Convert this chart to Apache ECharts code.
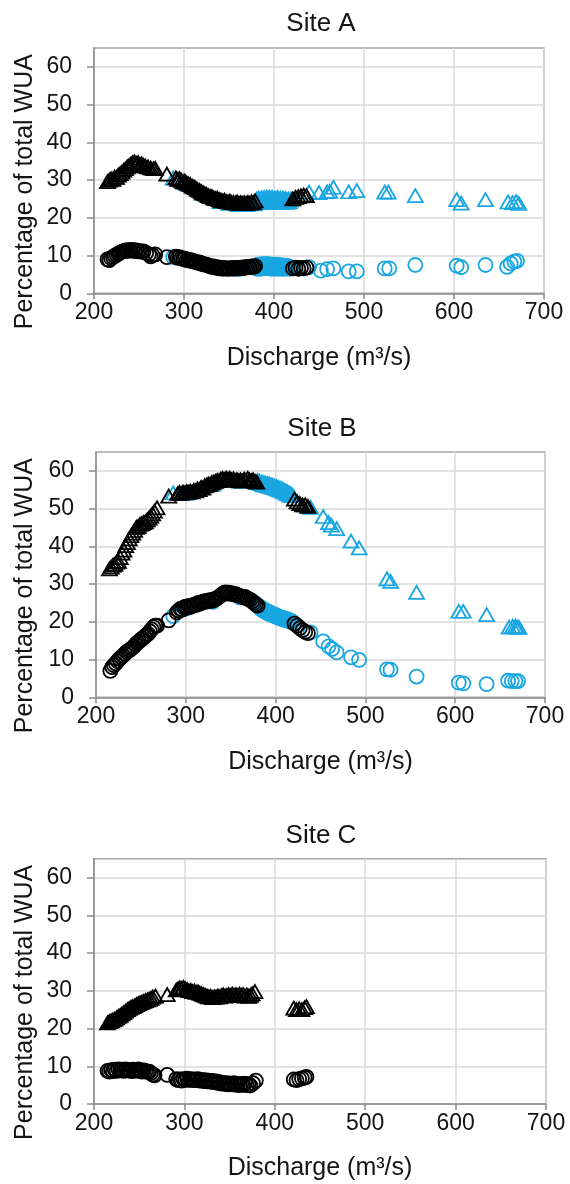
<!DOCTYPE html>
<html>
<head>
<meta charset="utf-8">
<script src="https://cdn.jsdelivr.net/npm/echarts@6/dist/echarts.min.js"></script>
<style>
html,body{margin:0;padding:0;background:#fff;}
#chart{width:570px;height:1184px;}
</style>
</head>
<body>
<div id="chart"></div>
<script>
// ---------- DATA ----------
const panelTitles = ['Site A', 'Site B', 'Site C'];
const xTicks = [200, 300, 400, 500, 600, 700];
const yTicks = [0, 10, 20, 30, 40, 50, 60];
const xAxisTitle = 'Discharge (m\u00b3/s)';
const yAxisTitle = 'Percentage of total WUA';

// Site A
const siteA_triBlack = [[215,29.6],[217,30.0],[219,30.3],[221,30.2],[223,30.8],[225,30.7],[227,31.3],[229,31.7],[231,32.1],[233,32.6],[235,33.0],[237,33.5],[239,33.8],[241,34.2],[243,34.6],[245,34.8],[247,34.4],[249,34.6],[251,34.1],[253,34.3],[255,33.9],[257,33.7],[260,33.5],[263,33.2],[266,33.0],[268,33.1],
  [281,31.6],
  [291,30.6],[293,30.2],[295,30.4],[297,29.9],[299,29.6],[301,29.7],[303,29.2],[305,29.0],[307,28.8],[309,28.4],[311,28.2],[313,27.9],[315,27.5],[317,27.3],[319,27.0],[321,26.7],[323,26.4],[325,26.2],[327,25.9],[329,25.7],[331,25.6],[333,25.3],[335,25.1],[337,25.2],[339,24.8],[341,24.7],[343,24.5],[345,24.7],[347,24.3],[349,24.2],[351,24.4],[353,24.0],[355,24.1],[357,23.9],[359,24.2],[361,23.8],[363,24.0],[365,23.8],[367,24.0],[369,23.8],[371,24.1],[373,23.9],[375,24.2],[377,24.0],[379,24.5],
  [421,25.0],[424,25.4],[427,25.6],[430,25.8],[433,26.0],[436,25.9]];
const siteA_triBlue = [[288,30.5],[300,29.3],[320,26.5],[340,24.3],[350,23.8],[360,23.5],[370,23.5],[378,23.7],
  [380,24.0],[381,25.0],[382,24.3],[383,25.2],[384,24.0],[385,24.6],[386,25.3],[387,24.1],[388,24.7],[389,25.4],[390,24.0],[391,24.8],[392,25.5],[393,24.2],[394,24.9],[395,25.5],[396,24.1],[397,24.8],[398,25.4],[399,24.0],[400,24.7],[401,25.3],[402,24.2],[403,24.9],[404,25.4],[405,24.1],[406,24.7],[407,25.2],[408,24.0],[409,24.6],[410,25.3],[411,24.2],[412,24.8],[413,25.1],[414,24.1],[415,24.6],[416,25.0],[417,24.2],[418,24.7],[419,25.0],
  [439,26.8],[450,26.7],[459,26.9],[462,27.0],[466,28.1],[483,26.9],[492,27.2],[523,26.8],[527,26.8],[557,25.9],[603,24.8],[608,23.9],[635,24.8],[660,24.2],[665,24.0],[669,24.3],[672,23.8]];
const siteA_cirBlack = [[215,9.0],[217,8.8],[219,9.3],[221,9.6],[223,9.9],[225,10.2],[227,10.5],[229,10.8],[231,11.0],[233,11.2],[235,11.4],[237,11.2],[239,11.5],[241,11.3],[243,11.5],[245,11.2],[247,11.4],[249,11.1],[251,11.2],[253,11.0],[255,11.1],[258,10.7],[261,10.3],[263,9.8],[265,10.1],[268,10.3],
  [281,9.6],
  [291,9.7],[293,9.4],[295,9.6],[297,9.3],[299,9.1],[301,9.2],[303,8.8],[305,8.9],[307,8.6],[309,8.7],[311,8.4],[313,8.3],[315,8.1],[317,8.2],[319,7.9],[321,7.8],[323,7.6],[325,7.6],[327,7.3],[329,7.2],[331,7.0],[333,7.1],[335,6.8],[337,6.9],[339,6.6],[341,6.7],[343,6.5],[345,6.7],[347,6.5],[349,6.6],[351,6.5],[353,6.7],[355,6.5],[357,6.7],[359,6.6],[361,6.7],[363,6.8],[365,6.6],[367,6.9],[369,6.8],[371,7.0],[373,6.9],[375,7.1],[377,7.0],[379,7.2],
  [421,6.6],[424,6.8],[427,6.5],[430,6.7],[433,6.6],[436,6.8]];
const siteA_cirBlue = [[288,9.6],[300,9.0],[320,7.7],[340,6.6],[360,6.4],[378,6.8],
  [380,7.2],[381,6.5],[382,7.6],[383,6.8],[384,7.3],[385,6.5],[386,7.7],[387,6.9],[388,7.4],[389,6.6],[390,7.8],[391,7.0],[392,7.4],[393,6.6],[394,7.7],[395,6.9],[396,7.3],[397,6.5],[398,7.6],[399,6.8],[400,7.4],[401,6.5],[402,7.6],[403,6.9],[404,7.3],[405,6.5],[406,7.5],[407,6.8],[408,7.2],[409,6.5],[410,7.4],[411,6.7],[412,7.2],[413,6.5],[414,7.3],[415,6.7],[416,7.1],[417,6.5],[418,7.0],[419,6.6],
  [439,6.9],[452,6.0],[459,6.4],[466,6.6],[483,5.8],[492,5.8],[523,6.6],[528,6.6],[557,7.5],[603,7.3],[608,6.9],[635,7.5],[659,7.0],[663,7.9],[667,8.4],[670,8.6]];

// Site B
const siteB_triBlack = [[215,34.0],[217,34.5],[219,35.0],[221,35.2],[223,35.8],[225,36.0],[227,37.0],[229,38.2],[231,39.0],[233,40.2],[235,41.0],[237,42.0],[239,42.8],[241,43.5],[243,44.2],[245,45.0],[247,45.3],[249,45.8],[251,46.0],[253,46.3],[255,46.5],[257,47.0],[259,47.5],[261,48.0],[263,48.6],[265,49.3],[268,50.2],
  [281,53.3],
  [291,54.0],[293,54.3],[295,54.0],[297,54.4],[299,54.2],[301,54.5],[303,54.3],[305,54.6],[307,54.4],[309,54.8],[311,54.7],[313,55.2],[315,55.0],[317,55.6],[319,55.4],[321,56.0],[323,56.2],[325,56.5],[327,56.4],[329,56.9],[331,57.0],[333,57.2],[335,57.5],[337,57.4],[339,57.8],[341,58.0],[343,57.7],[345,58.1],[347,57.8],[349,58.0],[351,57.6],[353,57.9],[355,57.5],[357,57.7],[359,57.4],[361,57.6],[363,57.3],[365,57.8],[367,57.5],[369,58.0],[371,57.6],[373,57.4],[375,57.6],[377,57.2],[379,57.0],
  [421,52.5],[424,51.8],[427,51.3],[430,51.0],[433,51.0],[436,50.6]];
const siteB_triBlue = [[286,54.2],[300,54.0],[330,56.5],[360,57.2],[378,57.0],
  [380,57.4],[381,56.9],[382,57.2],[383,56.6],[384,57.0],[385,56.8],[386,56.3],[387,56.9],[388,56.4],[389,56.7],[390,56.1],[391,56.6],[392,56.0],[393,56.5],[394,55.9],[395,56.3],[396,55.7],[397,56.2],[398,55.6],[399,55.9],[400,55.4],[401,55.8],[402,55.2],[403,55.6],[404,55.0],[405,55.4],[406,54.9],[407,55.2],[408,54.6],[409,55.0],[410,54.4],[411,54.7],[412,54.1],[413,54.5],[414,53.9],[415,54.2],[416,53.6],[417,53.9],[418,53.4],[419,53.6],
  [439,50.3],[453,47.9],[459,46.3],[462,45.6],[468,44.7],[484,41.4],[493,39.6],[524,31.4],[528,30.7],[557,27.8],[604,22.8],[609,22.8],[635,21.9],[660,18.6],[664,18.8],[667,18.8],[669,18.6],[671,18.5]];
const siteB_cirBlack = [[216,7.0],[218,8.0],[220,8.5],[222,9.0],[224,9.6],[226,10.2],[228,10.6],[230,11.0],[232,11.5],[234,12.0],[236,12.3],[238,12.6],[240,13.0],[242,13.4],[244,14.0],[246,14.5],[248,14.8],[250,15.3],[252,15.6],[254,16.0],[256,16.5],[258,16.8],[260,17.5],[262,18.0],[264,18.6],[266,19.0],[268,19.0],
  [281,20.4],
  [290,22.5],[292,23.0],[294,23.4],[296,23.2],[298,23.8],[300,24.0],[302,23.8],[304,24.2],[306,24.0],[308,24.4],[310,24.6],[312,24.5],[314,25.0],[316,24.8],[318,25.2],[320,25.4],[322,25.3],[324,25.6],[326,25.5],[328,25.8],[330,25.6],[332,26.0],[334,26.1],[336,26.5],[338,26.8],[340,27.2],[342,27.6],[344,27.8],[346,27.5],[348,27.7],[350,27.4],[352,27.5],[354,27.2],[356,27.3],[358,27.0],[360,26.9],[362,26.7],[364,26.5],[366,26.6],[368,26.2],[370,26.0],[372,25.8],[374,25.4],[376,25.0],[378,24.6],[380,24.3],
  [421,19.5],[424,19.0],[427,18.3],[430,17.8],[433,17.3],[436,17.0]];
const siteB_cirBlue = [[286,21.5],[300,23.5],[330,25.3],[360,26.5],[378,24.8],
  [380,24.4],[381,23.9],[382,24.1],[383,23.5],[384,23.7],[385,23.1],[386,23.4],[387,22.8],[388,23.1],[389,22.6],[390,22.9],[391,22.3],[392,22.6],[393,22.1],[394,22.4],[395,21.9],[396,22.2],[397,21.7],[398,22.0],[399,21.5],[400,21.8],[401,21.3],[402,21.6],[403,21.1],[404,21.4],[405,20.9],[406,21.2],[407,20.8],[408,21.0],[409,20.6],[410,20.9],[411,20.5],[412,20.7],[413,20.3],[414,20.6],[415,20.2],[416,20.4],[417,20.0],[418,20.2],[419,19.9],
  [439,17.2],[453,14.8],[459,13.5],[463,12.8],[468,11.9],[484,10.6],[493,9.9],[524,7.4],[528,7.3],[557,5.5],[604,3.9],[609,3.7],[635,3.5],[659,4.4],[663,4.3],[667,4.3],[670,4.3]];

// Site C
const siteC_triBlack = [[215,21.5],[217,21.8],[219,22.0],[221,22.3],[223,22.5],[225,22.8],[227,23.2],[229,23.5],[231,23.9],[233,24.2],[235,24.6],[237,25.0],[239,25.3],[241,25.6],[243,25.8],[245,26.0],[247,26.3],[249,26.6],[251,26.8],[253,27.0],[255,27.2],[257,27.4],[259,27.6],[261,27.7],[263,28.0],[265,28.3],[268,28.6],
  [281,29.0],
  [291,30.2],[293,30.5],[295,30.8],[297,30.6],[299,30.9],[301,30.5],[303,30.3],[305,30.0],[307,30.1],[309,29.8],[311,29.9],[313,29.6],[315,29.7],[317,29.4],[319,29.2],[321,29.0],[323,28.8],[325,28.6],[327,28.4],[329,28.5],[331,28.2],[333,28.4],[335,28.3],[337,28.6],[339,28.4],[341,28.7],[343,28.9],[345,28.6],[347,28.8],[349,29.0],[351,28.7],[353,29.1],[355,28.8],[357,29.0],[359,28.7],[361,29.1],[363,28.8],[365,29.0],[367,28.6],[369,28.9],[371,28.5],[373,28.8],[375,29.2],[378,29.8],
  [421,25.4],[424,25.0],[427,25.2],[430,25.0],[433,25.5],[435,25.8]];
const siteC_cirBlack = [[215,8.8],[217,8.6],[219,9.0],[221,8.7],[223,9.1],[225,8.8],[227,9.2],[229,8.9],[231,9.1],[233,8.8],[235,9.2],[237,8.9],[239,9.0],[241,8.7],[243,9.1],[245,8.8],[247,8.9],[249,9.2],[251,8.8],[253,8.6],[255,8.9],[257,8.7],[259,8.5],[261,8.6],[263,8.2],[265,7.8],[267,7.6],
  [281,7.7],
  [291,6.6],[293,6.3],[295,6.5],[297,6.2],[299,6.6],[301,6.4],[303,6.7],[305,6.4],[307,6.6],[309,6.3],[311,6.5],[313,6.3],[315,6.6],[317,6.2],[319,6.4],[321,6.1],[323,6.3],[325,6.0],[327,6.2],[329,5.9],[331,6.1],[333,5.8],[335,6.0],[337,5.6],[339,5.8],[341,5.4],[343,5.6],[345,5.3],[347,5.5],[349,5.2],[351,5.4],[353,5.2],[355,5.5],[357,5.1],[359,5.3],[361,5.0],[363,5.3],[365,5.1],[367,5.4],[369,5.0],[371,5.2],[373,4.9],[376,5.5],[379,6.2],
  [421,6.5],[424,6.3],[427,6.6],[430,6.8],[433,7.0],[435,7.2]];

// ---------- CHART ----------
const FONT = '"Liberation Sans", Arial, Helvetica, sans-serif';
const TEXT = '#141414';
const BLUE = '#1aa7e1';
const BLACK = '#000000';

const grids = [
  {left: 94, top: 48, width: 450, height: 245.3},
  {left: 96, top: 452, width: 449, height: 245.3},
  {left: 94, top: 858.7, width: 452, height: 245.3}
];
const titleCenters = [[321, 23.5], [322, 429], [321, 836]];

function xAxisFor(i) {
  return {
    type: 'value', gridIndex: i, min: 200, max: 700, interval: 100,
    name: xAxisTitle, nameLocation: 'middle', nameGap: 52,
    nameTextStyle: {fontSize: 25, color: TEXT, fontFamily: FONT},
    axisLine: {show: true, lineStyle: {color: '#8a8a8a', width: 1.5}},
    axisTick: {show: true, length: 6, lineStyle: {color: '#8a8a8a', width: 1.5}},
    axisLabel: {fontSize: 23, color: TEXT, fontFamily: FONT, margin: 8, customValues: xTicks},
    splitLine: {show: true, lineStyle: {color: '#d9d9d9', width: 1.5}}
  };
}
function yAxisFor(i) {
  return {
    type: 'value', gridIndex: i, min: 0, max: 65, interval: 10,
    axisLine: {show: true, lineStyle: {color: '#8a8a8a', width: 1.5}},
    axisTick: {show: true, length: 7, lineStyle: {color: '#8a8a8a', width: 1.5}, customValues: yTicks},
    axisLabel: {fontSize: 23, color: TEXT, fontFamily: FONT, margin: 22, customValues: yTicks,
      formatter: v => (v > 60 ? '' : String(v))},
    splitLine: {show: true, lineStyle: {color: '#d9d9d9', width: 1.5}}
  };
}
function sc(name, data, symbol, color, gi, z) {
  return {
    type: 'scatter', name, data, xAxisIndex: gi, yAxisIndex: gi, z,
    symbol, symbolSize: symbol === 'triangle' ? [15, 13] : 14,
    itemStyle: {color: 'rgba(0,0,0,0)', borderColor: color, borderWidth: 1.8, opacity: 1},
    emphasis: {disabled: true}, silent: true
  };
}

const graphics = [];
grids.forEach((g, i) => {
  graphics.push({
    type: 'text', x: 25, y: g.top + g.height / 2 + 21, rotation: Math.PI / 2,
    style: {text: yAxisTitle, fill: TEXT, font: '25px ' + FONT,
      textAlign: 'center', textVerticalAlign: 'middle', align: 'center', verticalAlign: 'middle'}
  });
  graphics.push({
    type: 'text', x: titleCenters[i][0], y: titleCenters[i][1],
    style: {text: panelTitles[i], fill: TEXT, font: '26px ' + FONT,
      textAlign: 'center', textVerticalAlign: 'middle', align: 'center', verticalAlign: 'middle'}
  });
});

const option = {
  animation: false,
  backgroundColor: '#ffffff',
  grid: grids.map(g => Object.assign({show: true, borderColor: '#a6a6a6', borderWidth: 1.5, backgroundColor: 'transparent'}, g)),
  xAxis: [0, 1, 2].map(xAxisFor),
  yAxis: [0, 1, 2].map(yAxisFor),
  graphic: graphics,
  series: [
    sc('A blue triangles', siteA_triBlue, 'triangle', BLUE, 0, 2),
    sc('A blue circles', siteA_cirBlue, 'circle', BLUE, 0, 2),
    sc('A black triangles', siteA_triBlack, 'triangle', BLACK, 0, 3),
    sc('A black circles', siteA_cirBlack, 'circle', BLACK, 0, 3),
    sc('B blue triangles', siteB_triBlue, 'triangle', BLUE, 1, 2),
    sc('B blue circles', siteB_cirBlue, 'circle', BLUE, 1, 2),
    sc('B black triangles', siteB_triBlack, 'triangle', BLACK, 1, 3),
    sc('B black circles', siteB_cirBlack, 'circle', BLACK, 1, 3),
    sc('C black triangles', siteC_triBlack, 'triangle', BLACK, 2, 3),
    sc('C black circles', siteC_cirBlack, 'circle', BLACK, 2, 3)
  ]
};
const chart = echarts.init(document.getElementById('chart'), null, {renderer: 'canvas'});
chart.setOption(option);
</script>
</body>
</html>
